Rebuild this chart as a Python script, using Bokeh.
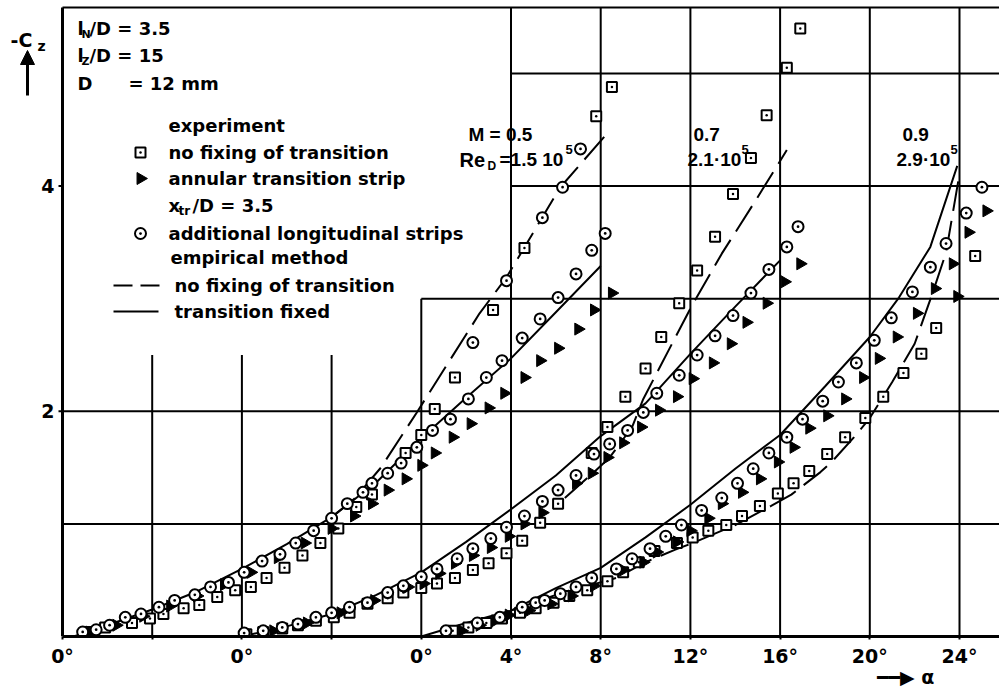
import numpy as np
from bokeh.plotting import figure
from bokeh.models import Label, Arrow, NormalHead, FixedTicker, LinearAxis
from bokeh.embed import file_html
from bokeh.resources import INLINE

# ---------------- data (alpha in degrees, -Cz) ----------------
# M = 0.5, Re_D = 1.5e5  (plotted from the first 0° origin)
m05_sq_a = [1.1, 1.9, 3.1, 3.9, 4.5, 5.4, 6.1, 6.9, 7.7, 8.4, 9.1, 9.9, 10.7, 11.5, 12.3, 13.1, 13.8, 15.3, 16.0, 16.6, 17.5, 19.2, 20.6, 23.8, 24.5]
m05_sq_c = [0.04, 0.08, 0.12, 0.16, 0.20, 0.25, 0.28, 0.35, 0.41, 0.44, 0.52, 0.61, 0.72, 0.83, 0.96, 1.15, 1.26, 1.63, 1.79, 2.02, 2.30, 2.90, 3.45, 4.62, 4.88]
m05_tri_a = [1.2, 2.4, 3.6, 4.8, 6.0, 7.2, 8.4, 9.6, 10.8, 12.0, 13.0, 13.8, 14.5, 15.3, 16.0, 16.6, 17.4, 18.2, 19.0, 19.7, 20.6, 21.3, 22.1, 23.0, 23.7, 24.5]
m05_tri_c = [0.04, 0.10, 0.18, 0.27, 0.36, 0.46, 0.57, 0.70, 0.83, 0.96, 1.07, 1.18, 1.30, 1.40, 1.52, 1.63, 1.77, 1.89, 2.03, 2.16, 2.30, 2.45, 2.56, 2.73, 2.90, 3.05]
m05_cir_a = [0.9, 1.5, 2.1, 2.8, 3.5, 4.3, 5.0, 5.9, 6.6, 7.4, 8.1, 8.9, 9.7, 10.4, 11.2, 12.0, 12.7, 13.4, 13.8, 14.5, 15.1, 15.8, 16.5, 17.3, 18.1, 18.9, 19.6, 20.5, 21.3, 22.1, 22.9, 23.6, 24.2, 18.3, 19.8, 21.4, 22.3, 23.1]
m05_cir_c = [0.04, 0.06, 0.10, 0.17, 0.20, 0.26, 0.32, 0.37, 0.44, 0.48, 0.57, 0.67, 0.73, 0.83, 0.94, 1.05, 1.18, 1.28, 1.36, 1.45, 1.54, 1.68, 1.83, 1.93, 2.11, 2.30, 2.45, 2.65, 2.82, 3.01, 3.22, 3.43, 3.58, 2.61, 3.16, 3.72, 3.99, 4.33]
m05_solid_a = [0.5, 2, 4, 6, 8, 10, 12, 14, 16, 18, 20, 22, 24]
m05_solid_c = [0.0, 0.10, 0.24, 0.40, 0.60, 0.82, 1.06, 1.37, 1.76, 2.12, 2.47, 2.88, 3.29]
m05_dash_a = [12.0, 13.0, 14.2, 15.8, 18.6, 19.8, 22.2, 24.3]
m05_dash_c = [1.06, 1.22, 1.50, 1.99, 2.87, 3.19, 3.99, 4.47]

# M = 0.7, Re_D = 2.1e5  (second 0° origin)
m07_sq_a = [0.2, 0.95, 1.8, 2.5, 3.3, 4.1, 4.8, 5.6, 6.5, 7.2, 8.0, 8.7, 9.5, 10.3, 11.0, 11.8, 12.5, 13.3, 14.1, 15.6, 16.3, 17.1, 18.0, 18.7, 19.5, 20.3, 21.1, 21.9, 22.7, 23.4, 24.3, 24.9]
m07_sq_c = [0.02, 0.04, 0.07, 0.10, 0.14, 0.17, 0.21, 0.29, 0.34, 0.39, 0.43, 0.47, 0.52, 0.59, 0.65, 0.74, 0.85, 1.01, 1.18, 1.63, 1.86, 2.13, 2.38, 2.66, 2.96, 3.25, 3.55, 3.93, 4.25, 4.63, 5.05, 5.40]
m07_tri_a = [1.4, 2.9, 4.4, 5.9, 7.4, 8.1, 8.8, 9.5, 10.3, 11.1, 11.9, 12.6, 13.4, 14.9, 15.6, 16.3, 17.0, 17.8, 18.6, 19.4, 20.1, 21.0, 21.8, 22.5, 23.4, 24.2, 24.9]
m07_tri_c = [0.05, 0.12, 0.21, 0.32, 0.44, 0.47, 0.56, 0.65, 0.72, 0.79, 0.89, 1.00, 1.10, 1.36, 1.45, 1.59, 1.72, 1.86, 2.01, 2.13, 2.29, 2.43, 2.60, 2.79, 2.96, 3.15, 3.31]
m07_cir_a = [0.1, 0.95, 1.8, 2.5, 3.3, 4.0, 4.8, 5.6, 6.5, 7.2, 8.0, 8.7, 9.6, 10.3, 11.1, 11.8, 12.6, 13.4, 14.1, 14.9, 15.7, 16.4, 17.2, 17.9, 18.5, 19.5, 20.3, 21.1, 21.9, 22.7, 23.5, 24.3, 24.8]
m07_cir_c = [0.03, 0.05, 0.08, 0.11, 0.17, 0.21, 0.26, 0.30, 0.39, 0.45, 0.53, 0.60, 0.69, 0.78, 0.87, 0.97, 1.07, 1.20, 1.30, 1.43, 1.62, 1.71, 1.83, 1.99, 2.16, 2.32, 2.50, 2.67, 2.85, 3.05, 3.26, 3.46, 3.64]
m07_solid_a = [0, 2, 4, 6, 8, 10, 12, 14, 16, 18, 20, 22, 24]
m07_solid_c = [0.0, 0.09, 0.20, 0.37, 0.57, 0.84, 1.13, 1.43, 1.78, 2.07, 2.51, 2.93, 3.34]
m07_dash_a = [14.4, 15.7, 16.4, 17.4, 17.9, 20.07, 21.4, 22.9, 24.3]
m07_dash_c = [1.23, 1.46, 1.59, 1.86, 2.11, 2.94, 3.40, 3.87, 4.32]

# M = 0.9, Re_D = 2.9e5  (third 0° origin)
m09_sq_a = [1.4, 2.1, 2.9, 3.6, 4.4, 5.1, 5.9, 6.6, 7.4, 8.3, 9.0, 9.7, 10.4, 11.4, 12.1, 12.8, 13.6, 14.3, 15.1, 15.9, 16.6, 17.3, 18.1, 18.9, 19.8, 20.6, 21.5, 22.3, 22.96, 24.7]
m09_sq_c = [0.05, 0.08, 0.12, 0.16, 0.21, 0.25, 0.30, 0.36, 0.41, 0.49, 0.57, 0.66, 0.76, 0.83, 0.88, 0.94, 0.99, 1.07, 1.16, 1.27, 1.36, 1.47, 1.62, 1.77, 1.94, 2.13, 2.34, 2.51, 2.74, 3.38]
m09_tri_a = [1.8, 2.6, 3.3, 3.9, 4.8, 5.8, 6.7, 7.7, 9.0, 9.9, 10.5, 11.4, 12.0, 12.8, 13.4, 14.3, 15.1, 15.9, 16.6, 17.3, 18.1, 18.9, 19.7, 20.4, 21.2, 22.1, 22.9, 23.7, 23.9, 24.4, 25.2]
m09_tri_c = [0.05, 0.10, 0.14, 0.19, 0.23, 0.29, 0.36, 0.45, 0.59, 0.66, 0.75, 0.84, 0.94, 1.05, 1.18, 1.28, 1.40, 1.55, 1.68, 1.85, 1.96, 2.11, 2.30, 2.47, 2.66, 2.87, 3.09, 3.31, 3.02, 3.59, 3.78]
m09_cir_a = [1.1, 2.5, 3.5, 4.5, 5.1, 5.5, 6.2, 6.9, 7.6, 8.7, 9.4, 10.2, 10.9, 11.6, 12.5, 13.4, 14.1, 14.8, 15.5, 16.3, 17.0, 17.9, 18.6, 19.4, 20.2, 20.96, 21.9, 22.7, 23.4, 24.3, 25.0]
m09_cir_c = [0.05, 0.12, 0.17, 0.26, 0.30, 0.32, 0.38, 0.44, 0.52, 0.60, 0.69, 0.78, 0.89, 0.99, 1.12, 1.23, 1.36, 1.49, 1.63, 1.77, 1.93, 2.09, 2.26, 2.43, 2.63, 2.83, 3.06, 3.28, 3.49, 3.76, 3.99]
m09_solid_a = [0, 2, 4, 6, 8, 10, 12, 14, 16, 18, 20, 21.3, 22.7, 23.9]
m09_solid_c = [0.0, 0.12, 0.23, 0.43, 0.61, 0.88, 1.17, 1.49, 1.79, 2.22, 2.66, 3.01, 3.46, 4.18]
m09_dash_a = [4, 6, 8.7, 10, 11.3, 12.1, 14, 15.6, 16.5, 17.8, 18.3, 19.3, 20.0, 21.0, 22.0, 22.8, 23.4, 23.95]
m09_dash_c = [0.23, 0.37, 0.52, 0.66, 0.77, 0.83, 0.99, 1.16, 1.26, 1.46, 1.55, 1.77, 1.94, 2.26, 2.60, 3.05, 3.41, 4.05]

# horizontal shift of each Mach number's 0° origin on the common axis
origin_05, origin_07, origin_09 = -16, -8, 0

# axis ticks and their labels
x_ticks = [-16, -12, -8, -4, 0, 4, 8, 12, 16, 20, 24]
x_tick_labels = ["0°", "", "0°", "", "0°", "4°", "8°", "12°", "16°", "20°", "24°"]
y_ticks = [2, 4]
y_tick_labels = ["2", "4"]
alpha_title_pos = 21.6
alpha_title = "━━▶ α"

# ---------------- layout ----------------
W, H = 999, 690
BB = 54                     # space for the x axis and the alpha title
AX_PX = 62                  # page x of the vertical axis (alpha = first 0°)
PX_PER_DEG = 22.425
PX_PER_CZ = 112.6
X0 = -16.0
FB = H - BB                 # page y of frame bottom (Cz = 0)


def X(px):
    return X0 + (px - AX_PX) / PX_PER_DEG


def Y(py):
    return (FB - py) / PX_PER_CZ


x_start, x_end = X(0), X(W)
y_end = Y(0)
FONT = "DejaVu Sans"
FONT2 = "Liberation Sans"

p = figure(width=W, height=H, x_range=(x_start, x_end), y_range=(0, y_end),
           output_backend="svg", toolbar_location=None,
           min_border_left=0, min_border_right=0, min_border_top=0, min_border_bottom=BB)
p.outline_line_color = None
p.xgrid.visible = False
p.ygrid.visible = False
p.yaxis.visible = False

ax = p.xaxis[0]
ax.bounds = (X0, x_end)
ax.axis_line_width = 3
ax.axis_line_color = "black"
ax.major_tick_line_width = 2
ax.major_tick_line_color = "black"
ax.major_tick_in = 0
ax.major_tick_out = 3
ax.minor_tick_line_color = None
ax.major_label_text_font = FONT
ax.major_label_text_font_style = "bold"
ax.major_label_text_color = "black"
ax.major_label_text_font_size = "19px"
ax.major_label_standoff = 5
ax.ticker = FixedTicker(ticks=x_ticks)
ax.major_label_overrides = {t: s for t, s in zip(x_ticks, x_tick_labels)}

# second, bare axis below carrying the "-> alpha" title at the right
ax2 = LinearAxis(ticker=FixedTicker(ticks=[alpha_title_pos]),
                 major_label_overrides={alpha_title_pos: alpha_title},
                 axis_line_color=None, major_tick_line_color=None, minor_tick_line_color=None,
                 major_tick_in=0, major_tick_out=0, major_label_standoff=-4,
                 major_label_text_font=FONT, major_label_text_font_style="bold",
                 major_label_text_font_size="19px", major_label_text_color="black")
p.add_layout(ax2, "below")

# ---------------- frame lines and partial grid of the original ----------------
top_y = Y(7)
p.segment(x0=[X0], y0=[0], x1=[X0], y1=[top_y], line_color="black", line_width=3)       # C axis line
p.segment(x0=[X0], y0=[top_y], x1=[x_end], y1=[top_y], line_color="black", line_width=2)  # top border
p.segment(x0=[X(58)] * len(y_ticks), y0=y_ticks, x1=[X0] * len(y_ticks), y1=y_ticks,
          line_color="black", line_width=2)                                             # C ticks

vgrid_x = [-12, -8, -4, 0, 4, 8, 12, 16, 20, 24]
vgrid_top = [2.5, 2.5, 2.5, 3.0] + [top_y] * 6
hgrid_y = [1, 2, 3, 4, 5]
hgrid_left = [-16, -16, 0, 4, 4]
p.segment(x0=vgrid_x, y0=[0] * len(vgrid_x), x1=vgrid_x, y1=vgrid_top, line_color="black", line_width=2)
p.segment(x0=hgrid_left, y0=hgrid_y, x1=[x_end] * len(hgrid_y), y1=hgrid_y, line_color="black", line_width=2)

# ---------------- empirical curves ----------------
DASH = "30 10"
for a, c, off in [(m05_solid_a, m05_solid_c, origin_05), (m07_solid_a, m07_solid_c, origin_07), (m09_solid_a, m09_solid_c, origin_09)]:
    p.line([v + off for v in a], c, line_color="black", line_width=2)
for a, c, off in [(m05_dash_a, m05_dash_c, origin_05), (m07_dash_a, m07_dash_c, origin_07), (m09_dash_a, m09_dash_c, origin_09)]:
    p.line([v + off for v in a], c, line_color="black", line_width=2, line_dash=DASH)

# ---------------- experiments ----------------
SQ = dict(marker="square_dot", size=10, line_color="black", line_width=2, fill_color="white")
TR = dict(marker="triangle", size=12, angle=-np.pi / 2, line_color="black", line_width=1, fill_color="black")
CI = dict(marker="circle_dot", size=11, line_color="black", line_width=2, fill_color="white")

for a, c, off in [(m05_sq_a, m05_sq_c, origin_05), (m07_sq_a, m07_sq_c, origin_07), (m09_sq_a, m09_sq_c, origin_09)]:
    p.scatter([v + off for v in a], c, **SQ)
for a, c, off in [(m05_tri_a, m05_tri_c, origin_05), (m07_tri_a, m07_tri_c, origin_07), (m09_tri_a, m09_tri_c, origin_09)]:
    p.scatter([v + off for v in a], c, **TR)
for a, c, off in [(m05_cir_a, m05_cir_c, origin_05), (m07_cir_a, m07_cir_c, origin_07), (m09_cir_a, m09_cir_c, origin_09)]:
    p.scatter([v + off for v in a], c, **CI)


# ---------------- texts ----------------
def txt(s, px, py, size=18, align="left", baseline="middle", font=FONT):
    p.add_layout(Label(x=X(px), y=Y(py), text=s, text_font=font, text_font_style="bold",
                       text_font_size=f"{size}px", text_align=align, text_baseline=baseline,
                       text_color="black"))


# C axis tick labels
for t, s in zip(y_ticks, y_tick_labels):
    p.add_layout(Label(x=X(54), y=t, text=s, text_font=FONT, text_font_style="bold",
                       text_font_size="19px", text_align="right", text_baseline="middle",
                       text_color="black"))

# C axis title with arrow
txt("-C", 10, 39, 19)
txt("z", 37, 45, 14)
p.add_layout(Arrow(end=NormalHead(size=14, fill_color="black", line_color="black", line_width=1),
                   x_start=X(27), y_start=Y(95), x_end=X(27), y_end=Y(50),
                   line_color="black", line_width=3))

# model parameters
txt("l", 77, 28)
txt("N", 81, 34, 11)
txt("/D = 3.5", 89, 28)
txt("l", 77, 55)
txt("Z", 81, 61, 11)
txt("/D = 15", 89, 55)
txt("D", 77, 83)
txt("= 12 mm", 128, 83)

# legend
row_y = [125, 152, 178, 205, 233, 257, 285, 311]
txt("experiment", 168, row_y[0])
p.scatter([X(140)], [Y(row_y[1])], **SQ)
txt("no fixing of transition", 168, row_y[1])
p.scatter([X(140)], [Y(row_y[2])], **TR)
txt("annular transition strip", 168, row_y[2])
txt("x", 168, row_y[3])
txt("tr", 178, row_y[3] + 5, 12)
txt("/D = 3.5", 192, row_y[3])
p.scatter([X(140)], [Y(row_y[4])], **CI)
txt("additional longitudinal strips", 168, row_y[4])
txt("empirical method", 170, row_y[5])
p.line([X(113), X(159)], [Y(row_y[6])] * 2, line_color="black", line_width=2, line_dash="19 8")
txt("no fixing of transition", 174, row_y[6])
p.line([X(113), X(158)], [Y(row_y[7])] * 2, line_color="black", line_width=2)
txt("transition  fixed", 174, row_y[7])

# curve annotations
txt("M = 0.5", 468, 134, 19, font=FONT2)
txt("Re", 459, 159, 20, font=FONT2)
txt("D", 487, 165, 12, font=FONT2)
txt("=1.5 10", 499, 159, 19, font=FONT2)
txt("5", 565, 149, 13, font=FONT2)
txt("0.7", 693, 134, 19, font=FONT2)
txt("2.1·10", 687, 159, 19, font=FONT2)
txt("5", 741, 149, 13, font=FONT2)
txt("0.9", 902, 134, 19, font=FONT2)
txt("2.9·10", 896, 159, 19, font=FONT2)
txt("5", 950, 149, 13, font=FONT2)

open("out.html", "w").write(file_html(p, INLINE))
